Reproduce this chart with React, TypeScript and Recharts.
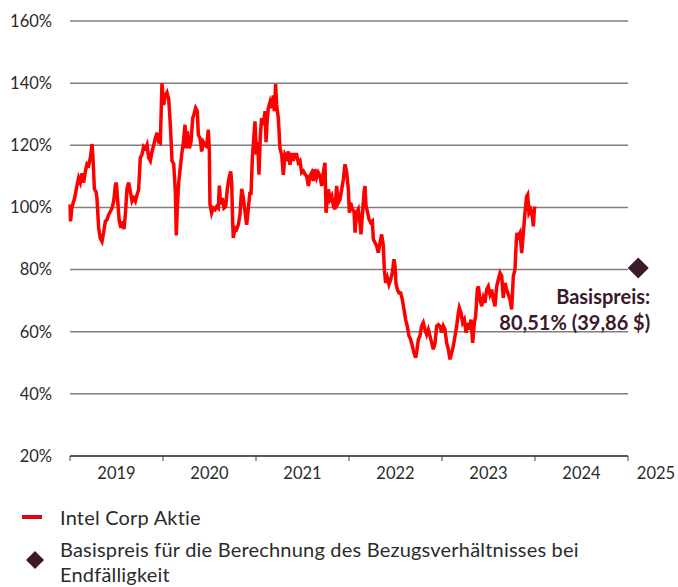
import { LineChart, Line, XAxis, YAxis, CartesianGrid, ReferenceDot } from 'recharts'

// trading dates as decimal years, and share price as % of the Basispreis reference (100% = 49,51 $)
const tradeDates = [
  2019.0, 2019.006, 2019.02, 2019.05, 2019.075, 2019.093, 2019.111, 2019.129, 2019.147, 2019.165,
  2019.183, 2019.201, 2019.219, 2019.237, 2019.247, 2019.262, 2019.28, 2019.29, 2019.308, 2019.326,
  2019.344, 2019.362, 2019.38, 2019.398, 2019.416, 2019.434, 2019.452, 2019.47, 2019.487, 2019.498,
  2019.513, 2019.53, 2019.548, 2019.566, 2019.581, 2019.595, 2019.613, 2019.631, 2019.649, 2019.667,
  2019.685, 2019.703, 2019.72, 2019.738, 2019.756, 2019.774, 2019.792, 2019.81, 2019.828, 2019.846,
  2019.864, 2019.882, 2019.9, 2019.918, 2019.935, 2019.953, 2019.971, 2019.989,
  2020.007, 2020.025, 2020.043, 2020.061, 2020.079, 2020.097, 2020.115, 2020.133, 2020.143, 2020.154,
  2020.169, 2020.183, 2020.201, 2020.219, 2020.237, 2020.247, 2020.262, 2020.283, 2020.301, 2020.319,
  2020.333, 2020.351, 2020.369, 2020.38, 2020.398, 2020.416, 2020.434, 2020.452, 2020.47, 2020.487,
  2020.498, 2020.505, 2020.523, 2020.541, 2020.559, 2020.577, 2020.595, 2020.606, 2020.62, 2020.638,
  2020.656, 2020.674, 2020.692, 2020.71, 2020.728, 2020.738, 2020.749, 2020.756, 2020.774, 2020.792,
  2020.81, 2020.828, 2020.846, 2020.864, 2020.882, 2020.9, 2020.918, 2020.935, 2020.946, 2020.961,
  2020.971, 2020.989,
  2021.004, 2021.018, 2021.032, 2021.047, 2021.061, 2021.079, 2021.097, 2021.108, 2021.122, 2021.133,
  2021.151, 2021.168, 2021.186, 2021.197, 2021.211, 2021.222, 2021.24, 2021.258, 2021.276, 2021.294,
  2021.312, 2021.33, 2021.348, 2021.366, 2021.384, 2021.401, 2021.419, 2021.437, 2021.455, 2021.473,
  2021.491, 2021.509, 2021.527, 2021.545, 2021.563, 2021.581, 2021.599, 2021.616, 2021.634, 2021.652,
  2021.67, 2021.688, 2021.706, 2021.724, 2021.742, 2021.753, 2021.767, 2021.778, 2021.796, 2021.814,
  2021.832, 2021.849, 2021.867, 2021.885, 2021.903, 2021.921, 2021.939, 2021.957, 2021.975, 2021.993,
  2022.004, 2022.018, 2022.036, 2022.054, 2022.065, 2022.082, 2022.1, 2022.118, 2022.129, 2022.143,
  2022.161, 2022.172, 2022.183, 2022.197, 2022.215, 2022.233, 2022.251, 2022.262, 2022.28, 2022.297,
  2022.315, 2022.333, 2022.351, 2022.369, 2022.38, 2022.394, 2022.412, 2022.43, 2022.448, 2022.466,
  2022.484, 2022.495, 2022.505, 2022.52, 2022.538, 2022.556, 2022.573, 2022.591, 2022.609, 2022.627,
  2022.645, 2022.663, 2022.681, 2022.699, 2022.717, 2022.73, 2022.746, 2022.763, 2022.781, 2022.799,
  2022.817, 2022.835, 2022.853, 2022.871, 2022.889, 2022.907, 2022.925, 2022.943, 2022.961, 2022.978,
  2022.996,
  2023.014, 2023.032, 2023.05, 2023.068, 2023.086, 2023.104, 2023.122, 2023.14, 2023.158, 2023.176,
  2023.186, 2023.204, 2023.222, 2023.24, 2023.258, 2023.276, 2023.294, 2023.312, 2023.33, 2023.348,
  2023.362, 2023.38, 2023.391, 2023.409, 2023.427, 2023.444, 2023.462, 2023.48, 2023.498, 2023.516,
  2023.534, 2023.552, 2023.57, 2023.588, 2023.606, 2023.624, 2023.642, 2023.659, 2023.677, 2023.695,
  2023.713, 2023.731, 2023.749, 2023.767, 2023.785, 2023.796, 2023.806, 2023.821, 2023.839, 2023.857,
  2023.875, 2023.892, 2023.91, 2023.921, 2023.935, 2023.953, 2023.971, 2023.982, 2023.993, 2024.0,
]

const intelPct = [
  101, 95.5, 100, 103, 107, 109.5, 108, 111, 108, 111.5,
  114, 113.5, 116, 120.4, 116, 106, 105, 103, 93.4, 90,
  89, 92, 95.5, 96, 97.7, 98.7, 99.8, 102, 107, 108,
  102, 95.5, 93.4, 95.5, 93, 97.7, 106, 108, 105, 102,
  103, 102, 104, 105.7, 116, 117, 119.6, 119, 120.2, 116,
  115, 118, 120, 122.3, 124, 121, 120.7, 140,
  133, 136, 137, 135, 126.6, 115, 114, 105, 91, 100,
  108, 112, 117, 121, 126.6, 119, 124.5, 119, 121, 128.7,
  130, 132, 131, 123.4, 122.3, 118, 121, 120, 119.6, 125,
  119, 101, 98.2, 99.8, 99.3, 100.3, 99.8, 107, 101, 103,
  99.8, 100.3, 106, 109.5, 111.6, 108.4, 95.5, 90.2, 93.4, 93,
  94.4, 97.7, 106, 103, 98.7, 94.4, 99.8, 105, 104, 116,
  120, 127.7,
  117, 121, 110.5, 123.4, 128.7, 126.6, 131, 121, 128.7, 132,
  134, 132, 136, 131, 139.7, 133, 128.7, 119, 117, 110.5,
  117, 116, 118, 113.7, 117.5, 115, 117, 117, 114.4, 115,
  111.2, 111.7, 110.7, 110.1, 106.9, 110.1, 111.2, 108.5, 112.3, 109.6,
  111.2, 110.1, 106.9, 111.2, 114.4, 98.3, 102.6, 105.8, 102.6, 103.7,
  100.5, 99.4, 106.9, 101.5, 102.6, 105.8, 109, 113.9, 111.2, 105.8,
  98.3, 101.5, 99.4, 98.8, 91.9, 98.3, 99.4, 95.1, 91.3, 97.2,
  104.7, 106.9, 100.5, 98.8, 96.2, 95.1, 95.6, 89.7, 88.6, 87.6,
  85.4, 88.6, 91.3, 87.6, 80, 75.7, 77.4, 75.2, 76.8, 79,
  83.3, 81.1, 75.7, 73.6, 72.5, 72.5, 70.4, 67.2, 63.9, 61.8,
  58.6, 57.5, 55.4, 53.2, 51.6, 54, 57.5, 58.6, 61.8, 62.9,
  60.7, 59.1, 60.7, 58.6, 56.4, 54.3, 56.4, 61.8, 62.3, 61.8,
  59.7,
  61.8, 60.7, 56.4, 54.3, 51.1, 53.2, 55.4, 58.6, 61.8, 66.1,
  67.7, 66.1, 62.9, 63.9, 59.7, 62.9, 60.7, 63.9, 56.4, 62.9,
  65, 73.6, 74.6, 70.4, 68.2, 70.9, 69.3, 73.6, 74.6, 72,
  73.6, 70.4, 68.2, 74.6, 76.8, 78.9, 77.9, 70.9, 75.7, 73.6,
  72, 70.4, 67.2, 77.9, 80, 87.5, 91.8, 90.7, 91.8, 85.3,
  91.8, 98.2, 103.5, 104.1, 98.2, 99.3, 97.1, 93.9, 99.3, 100.3,
]

const yearTicks = [2019, 2020, 2021, 2022, 2023, 2024, 2025]
const pctTicks = [20, 40, 60, 80, 100, 120, 140, 160]

// Basispreis fuer die Berechnung des Bezugsverhaeltnisses
const strikeDate = 2025.11
const strikePct = 80.51
const strikeLabel = ['Basispreis:', '80,51% (39,86 $)']

const seriesName = 'Intel Corp Aktie'
const strikeLegend = ['Basispreis für die Berechnung des Bezugsverhältnisses bei', 'Endfälligkeit']

const data = tradeDates.map((t, i) => ({ t, pct: intelPct[i] }))

const FONT = 'Lato, "Noto Sans", sans-serif'
const MAROON = '#3b1a2b'
const TEXT = '#2b2b2b'

// year labels sit between the tick marks (middle of each year)
function YearTick(props: any) {
  const { x, y, payload } = props
  const cx = Math.min(x + 46.5, 656)
  return (
    <text x={cx} y={y + 16} textAnchor="middle" fontSize={16.5} fill={TEXT} fontFamily={FONT}>
      {payload.value}
    </text>
  )
}

function StrikeMarker(props: any) {
  const { cx, cy } = props
  const r = 10.5
  return (
    <g>
      <polygon
        points={`${cx},${cy - r} ${cx + r},${cy} ${cx},${cy + r} ${cx - r},${cy}`}
        fill={MAROON}
      />
      <text x={cx + 12} y={cy + 36} textAnchor="end" fontSize={20} fontWeight={700} fill={MAROON} fontFamily={FONT}>
        {strikeLabel[0]}
      </text>
      <text x={cx + 12} y={cy + 62} textAnchor="end" fontSize={20} fontWeight={700} fill={MAROON} fontFamily={FONT}>
        {strikeLabel[1]}
      </text>
    </g>
  )
}

export default function App() {
  return (
    <div style={{ position: 'relative', width: 678, height: 587, overflow: 'hidden', fontFamily: FONT, background: '#fff' }}>
      <style>{'body{margin:0}'}</style>
      <LineChart width={678} height={490} data={data} margin={{ top: 21, right: 50, left: 0, bottom: 4 }}>
        <CartesianGrid horizontal vertical={false} stroke="#7f7f7f" strokeWidth={1.5} />
        <XAxis
          dataKey="t"
          type="number"
          domain={[2019, 2025]}
          ticks={yearTicks}
          height={30}
          axisLine={{ stroke: '#404040', strokeWidth: 1.5 }}
          tickLine={{ stroke: '#404040' }}
          tickSize={5}
          tick={<YearTick />}
          interval={0}
        />
        <YAxis
          type="number"
          domain={[20, 160]}
          ticks={pctTicks}
          width={70}
          axisLine={false}
          tickLine={false}
          tickMargin={12}
          tickFormatter={(v: number) => `${v}%`}
          tick={{ fontSize: 16.5, fill: TEXT, fontFamily: FONT }}
        />
        <Line
          type="linear"
          dataKey="pct"
          stroke="#ff0000"
          strokeWidth={3.5}
          dot={false}
          isAnimationActive={false}
        />
        <ReferenceDot x={strikeDate} y={strikePct} ifOverflow="visible" shape={<StrikeMarker />} />
      </LineChart>

      <div style={{ position: 'absolute', left: 22, top: 515, width: 20, height: 4, background: '#e3001b' }} />
      <div style={{ position: 'absolute', left: 60, top: 504, fontSize: 20, letterSpacing: 0.2, lineHeight: '26px', color: TEXT }}>
        {seriesName}
      </div>
      <svg style={{ position: 'absolute', left: 26, top: 551 }} width={18} height={18}>
        <polygon points="9,0 18,9 9,18 0,9" fill={MAROON} />
      </svg>
      <div style={{ position: 'absolute', left: 60, top: 537, fontSize: 20, letterSpacing: 0.2, lineHeight: '25px', color: TEXT }}>
        {strikeLegend[0]}
        <br />
        {strikeLegend[1]}
      </div>
    </div>
  )
}
